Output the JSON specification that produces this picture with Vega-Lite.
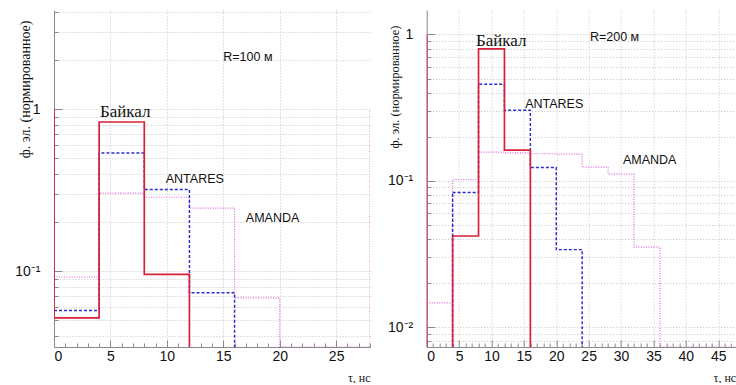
{
  "$schema": "https://vega.github.io/schema/vega-lite/v6.json",
  "background": "white",
  "padding": {"left": 14, "top": 10, "right": 0, "bottom": 0},
  "bounds": "flush",
  "spacing": 56.7,
  "config": {
    "view": {"stroke": null},
    "axis": {
      "domainColor": "#8a8a8a",
      "tickColor": "#8a8a8a",
      "labelColor": "#111111",
      "labelFont": "Liberation Sans",
      "labelFontSize": 14,
      "gridColor": "#c4c4c4",
      "gridDash": [1, 2],
      "titleFont": "Liberation Serif",
      "titleFontWeight": "normal",
      "titleColor": "#111111"
    }
  },
  "datasets": {
    "leftLines": [
      {"series": "AMANDA", "x": 0, "v": 0.092},
      {"series": "AMANDA", "x": 4, "v": 0.303},
      {"series": "AMANDA", "x": 8, "v": 0.286},
      {"series": "AMANDA", "x": 12, "v": 0.245},
      {"series": "AMANDA", "x": 16, "v": 0.0684},
      {"series": "AMANDA", "x": 20, "v": 0},
      {"series": "AMANDA", "x": 28, "v": 0},
      {"series": "ANTARES", "x": 0, "v": 0.0571},
      {"series": "ANTARES", "x": 4, "v": 0.537},
      {"series": "ANTARES", "x": 8, "v": 0.319},
      {"series": "ANTARES", "x": 12, "v": 0.0735},
      {"series": "ANTARES", "x": 16, "v": 0},
      {"series": "Байкал", "x": 0, "v": 0.0515},
      {"series": "Байкал", "x": 4, "v": 0.834},
      {"series": "Байкал", "x": 8, "v": 0.0954},
      {"series": "Байкал", "x": 12, "v": 0}
    ],
    "leftEdges": [
      {"series": "Байкал", "x": 0, "v": 0.0515, "v2": 1},
      {"series": "AMANDA", "x": 28, "v": 0, "v2": 1}
    ],
    "leftText": [
      {"label": "R=100 м", "x": 15.0, "v": 2.09},
      {"label": "Байкал", "x": 4.07, "v": 0.962},
      {"label": "ANTARES", "x": 9.9, "v": 0.369},
      {"label": "AMANDA", "x": 17.0, "v": 0.212}
    ],
    "rightLines": [
      {"series": "AMANDA", "x": 0, "v": 0.0146},
      {"series": "AMANDA", "x": 4, "v": 0.102},
      {"series": "AMANDA", "x": 8, "v": 0.157},
      {"series": "AMANDA", "x": 12, "v": 0.155},
      {"series": "AMANDA", "x": 16, "v": 0.153},
      {"series": "AMANDA", "x": 20, "v": 0.152},
      {"series": "AMANDA", "x": 24, "v": 0.124},
      {"series": "AMANDA", "x": 28, "v": 0.111},
      {"series": "AMANDA", "x": 32, "v": 0.0352},
      {"series": "AMANDA", "x": 36, "v": 0},
      {"series": "AMANDA", "x": 48, "v": 0},
      {"series": "ANTARES", "x": 4, "v": 0.083},
      {"series": "ANTARES", "x": 8, "v": 0.457},
      {"series": "ANTARES", "x": 12, "v": 0.303},
      {"series": "ANTARES", "x": 16, "v": 0.123},
      {"series": "ANTARES", "x": 20, "v": 0.0338},
      {"series": "ANTARES", "x": 24, "v": 0},
      {"series": "Байкал", "x": 4, "v": 0.0419},
      {"series": "Байкал", "x": 8, "v": 0.797},
      {"series": "Байкал", "x": 12, "v": 0.162},
      {"series": "Байкал", "x": 16, "v": 0}
    ],
    "rightEdges": [
      {"series": "ANTARES", "x": 4, "v": 0, "v2": 0.083},
      {"series": "Байкал", "x": 4, "v": 0, "v2": 0.0419},
      {"series": "Байкал", "x": 0, "v": 0, "v2": 1}
    ],
    "rightText": [
      {"label": "R=200 м", "x": 25.2, "v": 0.96},
      {"label": "Байкал", "x": 7.6, "v": 0.9},
      {"label": "ANTARES", "x": 15.2, "v": 0.333},
      {"label": "AMANDA", "x": 30.3, "v": 0.138}
    ]
  },
  "hconcat": [
    {
      "width": 316,
      "height": 337,
      "encoding": {
        "x": {
          "field": "x", "type": "quantitative",
          "scale": {"domain": [0, 28], "nice": false, "zero": false},
          "axis": {
            "values": [0,1,2,3,4,5,6,7,8,9,10,11,12,13,14,15,16,17,18,19,20,21,22,23,24,25,26,27,28],
            "labelExpr": "datum.value % 5 == 0 ? datum.label : ''",
            "grid": true,
            "gridOpacity": {"condition": {"test": "datum.value % 5 == 0 && datum.value > 0", "value": 1}, "value": 0},
            "tickSize": {"condition": {"test": "datum.value % 5 == 0", "value": -7}, "value": -4},
            "labelPadding": 9,
            "title": "τ, нс",
            "titleFontSize": 12,
            "titleAnchor": "end",
            "titleY": 25
          }
        },
        "y": {
          "field": "v", "type": "quantitative",
          "scale": {"type": "log", "domain": [0.034, 4.1], "nice": false, "clamp": true},
          "axis": {
            "values": [0.04,0.05,0.06,0.07,0.08,0.09,0.1,0.2,0.3,0.4,0.5,0.6,0.7,0.8,0.9,1,2,3,4],
            "labelExpr": "datum.value == 1 ? '1' : (datum.value == 0.1 ? '10⁻¹' : '')",
            "grid": true,
            "tickSize": {"condition": {"test": "datum.value == 1 || datum.value == 0.1", "value": -8}, "value": -4},
            "labelPadding": 22,
            "title": "ф. эл. (нормированное)",
            "titleFontSize": 14,
            "titleAnchor": "end",
            "titleX": -22,
            "titleY": 10
          }
        }
      },
      "layer": [
        {
          "data": {"name": "leftLines"},
          "mark": {"type": "line", "interpolate": "step-after", "clip": true, "invalid": "show"},
          "encoding": {
            "color": {"field": "series", "type": "nominal", "scale": {"domain": ["AMANDA", "ANTARES", "Байкал"], "range": ["#e264e2", "#2b2bd0", "#d8203a"]}, "legend": null},
            "strokeDash": {"field": "series", "type": "nominal", "scale": {"domain": ["AMANDA", "ANTARES", "Байкал"], "range": [[1, 1.5], [3, 2], [1, 0]]}, "legend": null},
            "strokeWidth": {"field": "series", "type": "nominal", "scale": {"domain": ["AMANDA", "ANTARES", "Байкал"], "range": [1.2, 1.7, 2.2]}, "legend": null}
          }
        },
        {
          "data": {"name": "leftEdges"},
          "mark": {"type": "rule", "clip": true, "invalid": "show"},
          "encoding": {
            "y2": {"field": "v2"},
            "color": {"field": "series", "type": "nominal", "scale": {"domain": ["AMANDA", "ANTARES", "Байкал"], "range": ["#e264e2", "#2b2bd0", "#d8203a"]}, "legend": null},
            "strokeDash": {"field": "series", "type": "nominal", "scale": {"domain": ["AMANDA", "ANTARES", "Байкал"], "range": [[1, 1.5], [3, 2], [1, 0]]}, "legend": null},
            "strokeWidth": {"field": "series", "type": "nominal", "scale": {"domain": ["AMANDA", "ANTARES", "Байкал"], "range": [1.2, 1.7, 2.2]}, "legend": null}
          }
        },
        {
          "data": {"name": "leftText"},
          "transform": [{"filter": "datum.label == 'Байкал'"}],
          "mark": {"type": "text", "align": "left", "baseline": "middle", "font": "Liberation Serif", "fontSize": 17, "color": "#111111"},
          "encoding": {"text": {"field": "label"}}
        },
        {
          "data": {"name": "leftText"},
          "transform": [{"filter": "datum.label != 'Байкал'"}],
          "mark": {"type": "text", "align": "left", "baseline": "middle", "font": "Liberation Sans", "fontSize": 12.5, "color": "#111111"},
          "encoding": {"text": {"field": "label"}}
        }
      ]
    },
    {
      "width": 309,
      "height": 337,
      "encoding": {
        "x": {
          "field": "x", "type": "quantitative",
          "scale": {"domain": [0, 47.7], "nice": false, "zero": false},
          "axis": {
            "values": [0,1,2,3,4,5,6,7,8,9,10,11,12,13,14,15,16,17,18,19,20,21,22,23,24,25,26,27,28,29,30,31,32,33,34,35,36,37,38,39,40,41,42,43,44,45,46,47],
            "labelExpr": "datum.value % 5 == 0 ? datum.label : ''",
            "grid": true,
            "gridOpacity": {"condition": {"test": "datum.value % 5 == 0 && datum.value > 0", "value": 1}, "value": 0},
            "tickSize": {"condition": {"test": "datum.value % 5 == 0", "value": -7}, "value": -4},
            "labelPadding": 9,
            "title": "τ, нс",
            "titleFontSize": 12,
            "titleAnchor": "end",
            "titleY": 25
          }
        },
        "y": {
          "field": "v", "type": "quantitative",
          "scale": {"type": "log", "domain": [0.0073, 1.47], "nice": false, "clamp": true},
          "axis": {
            "values": [0.008,0.009,0.01,0.02,0.03,0.04,0.05,0.06,0.07,0.08,0.09,0.1,0.2,0.3,0.4,0.5,0.6,0.7,0.8,0.9,1],
            "labelExpr": "datum.value == 1 ? '1' : (datum.value == 0.1 ? '10⁻¹' : (datum.value == 0.01 ? '10⁻²' : ''))",
            "grid": true,
            "tickSize": {"condition": {"test": "datum.value == 1 || datum.value == 0.1 || datum.value == 0.01", "value": -8}, "value": -4},
            "labelPadding": 22,
            "title": "ф. эл. (нормированное)",
            "titleFontSize": 12.5,
            "titleAnchor": "end",
            "titleX": -25,
            "titleY": 15
          }
        }
      },
      "layer": [
        {
          "data": {"name": "rightLines"},
          "mark": {"type": "line", "interpolate": "step-after", "clip": true, "invalid": "show"},
          "encoding": {
            "color": {"field": "series", "type": "nominal", "scale": {"domain": ["AMANDA", "ANTARES", "Байкал"], "range": ["#e264e2", "#2b2bd0", "#d8203a"]}, "legend": null},
            "strokeDash": {"field": "series", "type": "nominal", "scale": {"domain": ["AMANDA", "ANTARES", "Байкал"], "range": [[1, 1.5], [3, 2], [1, 0]]}, "legend": null},
            "strokeWidth": {"field": "series", "type": "nominal", "scale": {"domain": ["AMANDA", "ANTARES", "Байкал"], "range": [1.2, 1.7, 2.2]}, "legend": null}
          }
        },
        {
          "data": {"name": "rightEdges"},
          "mark": {"type": "rule", "clip": true, "invalid": "show"},
          "encoding": {
            "y2": {"field": "v2"},
            "color": {"field": "series", "type": "nominal", "scale": {"domain": ["AMANDA", "ANTARES", "Байкал"], "range": ["#e264e2", "#2b2bd0", "#d8203a"]}, "legend": null},
            "strokeDash": {"field": "series", "type": "nominal", "scale": {"domain": ["AMANDA", "ANTARES", "Байкал"], "range": [[1, 1.5], [3, 2], [1, 0]]}, "legend": null},
            "strokeWidth": {"field": "series", "type": "nominal", "scale": {"domain": ["AMANDA", "ANTARES", "Байкал"], "range": [1.2, 1.7, 2.2]}, "legend": null}
          }
        },
        {
          "data": {"name": "rightText"},
          "transform": [{"filter": "datum.label == 'Байкал'"}],
          "mark": {"type": "text", "align": "left", "baseline": "middle", "font": "Liberation Serif", "fontSize": 17, "color": "#111111"},
          "encoding": {"text": {"field": "label"}}
        },
        {
          "data": {"name": "rightText"},
          "transform": [{"filter": "datum.label != 'Байкал'"}],
          "mark": {"type": "text", "align": "left", "baseline": "middle", "font": "Liberation Sans", "fontSize": 12.5, "color": "#111111"},
          "encoding": {"text": {"field": "label"}}
        }
      ]
    }
  ]
}
